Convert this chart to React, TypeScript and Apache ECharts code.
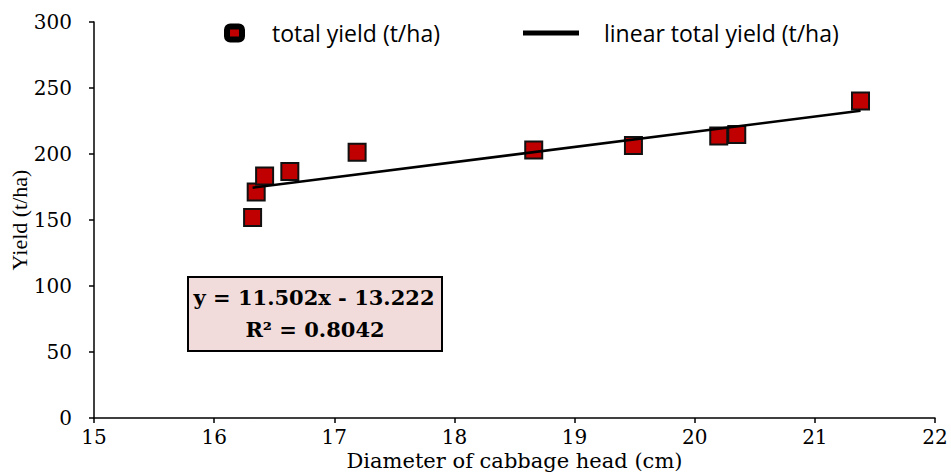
import React, { useEffect, useRef } from "react";
import * as echarts from "echarts";

const diameters = [16.32, 16.35, 16.42, 16.63, 17.19, 18.66, 19.49, 20.2, 20.35, 21.38];
const yields = [151.9, 171.2, 183.3, 186.7, 201.3, 203.0, 206.4, 213.6, 214.8, 240.2];
const trendX = [16.32, 21.38];
const trendY = [174.5, 232.7];
const xTicks = [15, 22, 1];
const yTicks = [0, 300, 50];
const equationLines = ["y = 11.502x - 13.222", "R² = 0.8042"];
const seriesNames = ["total yield (t/ha)", "linear total yield (t/ha)"];

export default function App() {
  const ref = useRef<HTMLDivElement>(null);
  useEffect(() => {
    if (!ref.current) return;
    const chart = echarts.init(ref.current, null, { renderer: "svg" });
    const axisCommon = {
      axisLine: { lineStyle: { color: "#000", width: 1.5 } },
      axisTick: { show: true, inside: false, length: 5, lineStyle: { color: "#000", width: 1.5 } },
      splitLine: { show: false },
    };
    const legendText = {
      fontFamily: "Open Sans",
      fontSize: 23,
      color: "#000",
      lineHeight: 26,
    };
    chart.setOption({
      animation: false,
      backgroundColor: "#fff",
      grid: { left: 94, right: 16, top: 22, bottom: 56, containLabel: false, outerBoundsMode: "none" },
      legend: [
        {
          data: [
            {
              name: seriesNames[0],
              icon: "roundRect",
              itemStyle: { color: "#c00000", borderColor: "#000", borderWidth: 6, opacity: 1 },
            },
          ],
          left: 224,
          top: 20,
          padding: 0,
          itemWidth: 15,
          itemHeight: 13,
          textStyle: { ...legendText, padding: [0, 0, 0, 25] },
        },
        {
          data: [{ name: seriesNames[1], icon: "rect", itemStyle: { color: "#000" } }],
          left: 523,
          top: 20,
          padding: 0,
          itemWidth: 56,
          itemHeight: 5,
          textStyle: { ...legendText, padding: [0, 0, 0, 20] },
        },
      ],
      xAxis: {
        type: "value",
        min: xTicks[0],
        max: xTicks[1],
        interval: xTicks[2],
        name: "Diameter of cabbage head (cm)",
        nameLocation: "middle",
        nameGap: 32,
        nameMoveOverlap: false,
        nameTextStyle: { fontFamily: "DejaVu Serif", fontSize: 21, color: "#000" },
        axisLabel: { fontFamily: "DejaVu Serif", fontSize: 20, color: "#000", margin: 9 },
        ...axisCommon,
      },
      yAxis: {
        type: "value",
        min: yTicks[0],
        max: yTicks[1],
        interval: yTicks[2],
        name: "Yield (t/ha)",
        nameLocation: "middle",
        nameGap: 64,
        nameMoveOverlap: false,
        nameTextStyle: { fontFamily: "Liberation Serif", fontSize: 22, color: "#000" },
        axisLabel: { fontFamily: "DejaVu Serif", fontSize: 20, color: "#000", margin: 22 },
        ...axisCommon,
      },
      series: [
        {
          name: seriesNames[0],
          type: "scatter",
          symbol: "rect",
          symbolSize: 17,
          data: diameters.map((d, i) => [d, yields[i]]),
          itemStyle: { color: "#c00000", borderColor: "#111", borderWidth: 2, opacity: 1 },
          z: 2,
        },
        {
          name: seriesNames[1],
          type: "line",
          data: trendX.map((d, i) => [d, trendY[i]]),
          showSymbol: false,
          symbol: "none",
          lineStyle: { color: "#000", width: 2.5 },
          z: 3,
        },
      ],
      graphic: [
        {
          type: "group",
          left: 187,
          top: 276,
          children: [
            {
              type: "rect",
              shape: { x: 0, y: 0, width: 254, height: 74 },
              style: { fill: "#f2dcdb", stroke: "#000", lineWidth: 2 },
            },
            {
              type: "text",
              x: 126,
              y: 20,
              style: {
                text: equationLines[0],
                font: "bold 21px 'DejaVu Serif'",
                fill: "#000",
                align: "center",
                verticalAlign: "middle",
              },
            },
            {
              type: "text",
              x: 127,
              y: 52,
              style: {
                text: equationLines[1],
                font: "bold 21px 'DejaVu Serif'",
                fill: "#000",
                align: "center",
                verticalAlign: "middle",
              },
            },
          ],
        },
      ],
    });
    return () => chart.dispose();
  }, []);
  return <div ref={ref} style={{ width: 951, height: 474, position: "absolute", left: 0, top: 0 }} />;
}
